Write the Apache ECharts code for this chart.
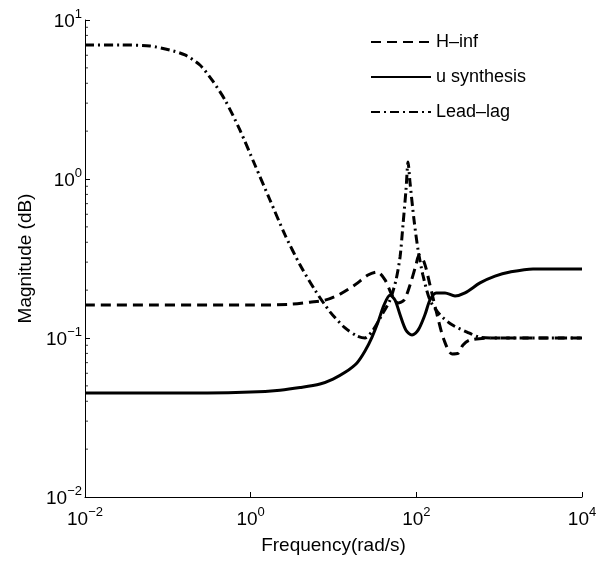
<!DOCTYPE html>
<html>
<head>
<meta charset="utf-8">
<script src="https://cdn.jsdelivr.net/npm/echarts@6/dist/echarts.min.js"></script>
<style>html,body{margin:0;padding:0;background:#fff}#c{width:606px;height:561px}</style>
</head>
<body>
<div id="c"></div>
<script>
// H-inf (dashed)
const hinfFreq = [0.01, 1, 2.99, 5.2, 7.9, 12.0, 18.2, 26.1, 33.5, 41.9, 50.8, 60.1, 71.0, 84, 99, 108, 124, 146, 178, 216, 270, 319, 366, 445, 776, 10000];
const hinfMag  = [0.161, 0.161, 0.163, 0.168, 0.173, 0.189, 0.216, 0.249, 0.260, 0.232, 0.186, 0.166, 0.173, 0.216, 0.288, 0.333, 0.301, 0.216, 0.140, 0.0971, 0.0793, 0.080, 0.0904, 0.0971, 0.100, 0.100];
// u synthesis (solid)
const uFreq = [0.01, 0.3, 1, 2.26, 3.95, 6.87, 9.87, 13.8, 19.2, 24.0, 29.2, 34.5, 40.7, 48.1, 55.3, 63.6, 75.0, 88.7, 105, 127, 146, 173, 222, 293, 387, 587, 891, 1352, 2564, 10000];
const uMag  = [0.0451, 0.0451, 0.0457, 0.0470, 0.0488, 0.0514, 0.0552, 0.0608, 0.0697, 0.0828, 0.1014, 0.126, 0.161, 0.186, 0.173, 0.140, 0.112, 0.1045, 0.112, 0.140, 0.173, 0.192, 0.192, 0.184, 0.192, 0.222, 0.245, 0.260, 0.272, 0.272];
// Lead-lag (dash-dot)
const llFreq = [0.01, 0.0265, 0.061, 0.106, 0.161, 0.244, 0.341, 0.490, 0.743, 1.13, 1.71, 2.60, 3.95, 5.98, 9.08, 13.8, 19.2, 24.0, 30.0, 38.5, 48.1, 56.9, 63.6, 69.0, 75.0, 79.4, 84.0, 93.8, 105, 120, 146, 193, 270, 409, 587, 1023, 10000];
const llMag  = [6.97, 6.97, 6.86, 6.47, 6.03, 5.21, 4.20, 3.14, 2.03, 1.22, 0.738, 0.445, 0.288, 0.200, 0.146, 0.1156, 0.103, 0.100, 0.112, 0.140, 0.173, 0.232, 0.323, 0.514, 0.853, 1.28, 0.944, 0.552, 0.357, 0.249, 0.173, 0.140, 0.121, 0.109, 0.101, 0.100, 0.100];
// y-axis minor ticks
const yMinorTicks = [0.02,0.03,0.04,0.05,0.06,0.07,0.08,0.09,0.2,0.3,0.4,0.5,0.6,0.7,0.8,0.9,2,3,4,5,6,7,8,9];
const seriesNames = ['H\u2013inf', 'u synthesis', 'Lead\u2013lag'];

const zip = (a, b) => a.map((v, i) => [v, b[i]]);
const FONT = 'Liberation Sans, Arial, Helvetica, sans-serif';
function powLabel(v) {
  const e = Math.round(Math.log10(v));
  const s = e < 0 ? '\u2212' + (-e) : String(e);
  return '{b|10}{s|' + s + '}';
}
const rich = {
  b: { fontSize: 19, fontFamily: FONT, color: '#000', verticalAlign: 'bottom', lineHeight: 22 },
  s: { fontSize: 13, fontFamily: FONT, color: '#000', verticalAlign: 'bottom', lineHeight: 22, padding: [0, 0, 10, 0] }
};

const chart = echarts.init(document.getElementById('c'));
chart.setOption({
  animation: false,
  backgroundColor: '#fff',
  grid: { left: 85, right: 24, top: 20, bottom: 64, containLabel: false },
  legend: {
    orient: 'vertical', left: 370, top: 33, padding: 0,
    itemWidth: 60, itemHeight: 14, itemGap: 17,
    data: seriesNames,
    itemStyle: { opacity: 0 },
    textStyle: { fontSize: 18, fontFamily: FONT, color: '#000' }
  },
  xAxis: {
    type: 'log', logBase: 10, min: 0.01, max: 10000, interval: 2,
    name: 'Frequency(rad/s)', nameLocation: 'middle', nameGap: 39,
    nameTextStyle: { fontSize: 19, fontFamily: FONT, color: '#000' },
    axisLine: { show: true, lineStyle: { color: '#000', width: 1 } },
    axisTick: { show: true, inside: true, length: 5, lineStyle: { color: '#000' } },
    axisLabel: { formatter: powLabel, rich: rich, margin: 10 },
    splitLine: { show: false }
  },
  yAxis: {
    type: 'log', logBase: 10, min: 0.01, max: 10, interval: 1,
    name: 'Magnitude (dB)', nameLocation: 'middle', nameGap: 45,
    nameTextStyle: { fontSize: 19, fontFamily: FONT, color: '#000' },
    axisLine: { show: true, lineStyle: { color: '#000', width: 1 } },
    axisTick: { show: true, inside: true, length: 5, lineStyle: { color: '#000' } },
    axisLabel: { formatter: powLabel, rich: rich, margin: 3 },
    splitLine: { show: false }
  },
  series: [
    {
      name: seriesNames[0], type: 'line', data: zip(hinfFreq, hinfMag),
      showSymbol: false, symbol: 'none', smooth: 0.3,
      lineStyle: { color: '#000', width: 3, type: [10, 6] }, itemStyle: { color: '#000' }
    },
    {
      name: seriesNames[1], type: 'line', data: zip(uFreq, uMag),
      showSymbol: false, symbol: 'none', smooth: 0.3,
      lineStyle: { color: '#000', width: 3, type: 'solid' }, itemStyle: { color: '#000' }
    },
    {
      name: seriesNames[2], type: 'line', data: zip(llFreq, llMag),
      showSymbol: false, symbol: 'none', smooth: 0.25,
      lineStyle: { color: '#000', width: 3, type: [9, 4, 2, 4] }, itemStyle: { color: '#000' }
    },
    {
      name: 'minorTicks', type: 'scatter', silent: true, clip: false,
      data: yMinorTicks.map(v => [0.01, v]),
      symbol: 'rect', symbolSize: [3, 1], symbolOffset: [1.5, 0],
      itemStyle: { color: '#000' }, z: 5
    }
  ]
});
</script>
</body>
</html>
